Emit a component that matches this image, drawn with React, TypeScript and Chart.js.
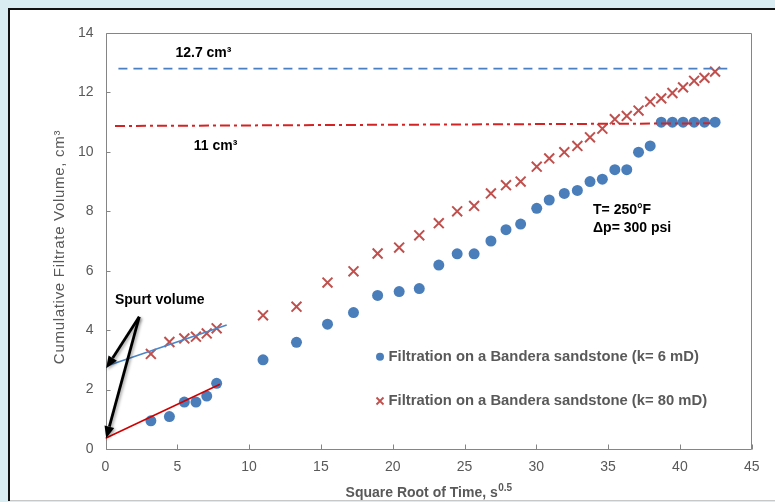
import { useEffect, useRef } from 'react';
import { Chart, registerables } from 'chart.js';

Chart.register(...registerables);

// ---- data ----
const sqrtTime = [3.16, 4.45, 5.49, 6.3, 7.05, 7.74, 10.97, 13.3, 15.46, 17.27, 18.95, 20.45, 21.85, 23.21, 24.49, 25.67, 26.84, 27.89, 28.91, 30.03, 30.9, 31.95, 32.86, 33.74, 34.6, 35.47, 36.3, 37.12, 37.93, 38.7, 39.48, 40.22, 40.99, 41.71, 42.45];
const vol6mD = [0.95, 1.09, 1.58, 1.58, 1.78, 2.21, 3.0, 3.59, 4.2, 4.59, 5.17, 5.3, 5.4, 6.19, 6.57, 6.57, 7.0, 7.38, 7.57, 8.1, 8.38, 8.6, 8.7, 9.0, 9.08, 9.4, 9.4, 9.99, 10.2, 11.0, 11.0, 11.0, 11.0, 11.0, 11.0];
const vol80mD = [3.2, 3.6, 3.72, 3.78, 3.89, 4.06, 4.5, 4.79, 5.6, 5.98, 6.58, 6.78, 7.19, 7.6, 8.0, 8.18, 8.6, 8.88, 9.0, 9.5, 9.78, 9.99, 10.2, 10.49, 10.78, 11.1, 11.21, 11.39, 11.69, 11.8, 11.98, 12.17, 12.39, 12.49, 12.7];

const seriesLabels = ['Filtration on a Bandera sandstone (k= 6 mD)', 'Filtration on a Bandera sandstone (k= 80 mD)'];

const line127X = [0.9, 43.3];
const line127Y = [12.8, 12.8];
const line11X = [0.66, 42.1];
const line11Y = [10.87, 10.96];
const fit80X = [0.08, 8.44];
const fit80Y = [2.79, 4.17];
const fit6X = [0.0, 7.97];
const fit6Y = [0.36, 2.18];

const xTickMin = 0;
const xTickMax = 45;
const xTickStep = 5;
const yTickMin = 0;
const yTickMax = 14;
const yTickStep = 2;

const noteTexts = ['12.7 cm³', '11 cm³', 'T= 250°F', 'Δp= 300 psi', 'Spurt volume'];
const noteX = [6.82, 7.67, 33.95, 33.95, 0.66];
const noteY = [13.33, 10.2, 8.04, 7.44, 5.02];
const noteAlign = ['center', 'center', 'left', 'left', 'left'];

const arrowFromX = [2.35, 2.35];
const arrowFromY = [4.45, 4.45];
const arrowToX = [0.05, 0.05];
const arrowToY = [2.72, 0.36];

const yTitle = 'Cumulative Filtrate Volume, cm³';
const xTitleMain = 'Square Root of Time, s';
const xTitleSup = '0.5';

const FONT = "'Liberation Sans', Arial, sans-serif";
const BLUE = '#4a7ebb';
const RED = '#c0504d';

const pts = (xs: number[], ys: number[]) => xs.map((x, i) => ({ x, y: ys[i] }));

const pagePlugin = {
  id: 'page',
  beforeDraw(chart: any) {
    const { ctx, width, height } = chart;
    ctx.save();
    ctx.fillStyle = '#d9ecf2';
    ctx.fillRect(0, 0, width, height);
    ctx.fillStyle = '#ffffff';
    ctx.fillRect(8, 8, width - 8, height - 9);
    ctx.fillStyle = '#c8c8c8';
    ctx.fillRect(10, height - 2, width - 10, 1);
    ctx.fillStyle = '#111111';
    ctx.fillRect(8, 8, width - 8, 2);
    ctx.fillRect(8, 8, 2, height - 9);
    ctx.restore();
  },
};

const framePlugin = {
  id: 'frameTicks',
  beforeDatasetsDraw(chart: any) {
    const { ctx, chartArea: a, scales } = chart;
    const L = Math.round(a.left) + 0.5;
    const R = Math.round(a.right) - 0.5;
    const T = Math.round(a.top) + 0.5;
    const B = Math.round(a.bottom) + 0.5;
    ctx.save();
    ctx.strokeStyle = '#858585';
    ctx.lineWidth = 1;
    ctx.beginPath();
    ctx.rect(L, T, R - L, B - T);
    scales.x.ticks.forEach((t: any) => {
      const px = Math.round(scales.x.getPixelForValue(t.value)) + 0.5;
      ctx.moveTo(px, B);
      ctx.lineTo(px, B - 5);
    });
    scales.y.ticks.forEach((t: any) => {
      const py = Math.round(scales.y.getPixelForValue(t.value)) + 0.5;
      ctx.moveTo(L, py);
      ctx.lineTo(L + 4, py);
    });
    ctx.stroke();
    ctx.restore();
  },
};

const notesPlugin = {
  id: 'notes',
  afterDatasetsDraw(chart: any) {
    const { ctx, scales, chartArea: a } = chart;
    const sx = scales.x, sy = scales.y;
    ctx.save();
    ctx.fillStyle = '#000';
    ctx.font = `bold 14px ${FONT}`;
    ctx.textBaseline = 'middle';
    noteTexts.forEach((t, i) => {
      ctx.textAlign = noteAlign[i] as CanvasTextAlign;
      ctx.fillText(t, sx.getPixelForValue(noteX[i]), sy.getPixelForValue(noteY[i]));
    });
    ctx.strokeStyle = '#000';
    ctx.fillStyle = '#000';
    ctx.lineWidth = 2.8;
    ctx.shadowColor = 'rgba(0,0,0,0.35)';
    ctx.shadowBlur = 3;
    ctx.shadowOffsetX = 1.5;
    ctx.shadowOffsetY = 1.5;
    arrowFromX.forEach((_, i) => {
      const x0 = sx.getPixelForValue(arrowFromX[i]);
      const y0 = sy.getPixelForValue(arrowFromY[i]);
      const x1 = sx.getPixelForValue(arrowToX[i]);
      const y1 = sy.getPixelForValue(arrowToY[i]);
      const ang = Math.atan2(y1 - y0, x1 - x0);
      const hl = 12, hw = 5;
      const bx = x1 - hl * Math.cos(ang), by = y1 - hl * Math.sin(ang);
      ctx.beginPath();
      ctx.moveTo(x0, y0);
      ctx.lineTo(bx, by);
      ctx.stroke();
      ctx.beginPath();
      ctx.moveTo(x1, y1);
      ctx.lineTo(bx + hw * Math.sin(ang), by - hw * Math.cos(ang));
      ctx.lineTo(bx - hw * Math.sin(ang), by + hw * Math.cos(ang));
      ctx.closePath();
      ctx.fill();
    });
    ctx.restore();

    // legend
    ctx.save();
    const lx = a.left + 274.5;
    const ly = [a.top + 323.7, a.top + 368];
    ctx.font = `bold 14.8px ${FONT}`;
    ctx.textAlign = 'left';
    ctx.textBaseline = 'middle';
    chart.data.datasets.filter((d: any) => d.inLegend).forEach((d: any, i: number) => {
      if (d.pointStyle === 'crossRot') {
        ctx.strokeStyle = d.borderColor;
        ctx.lineWidth = 1.8;
        ctx.beginPath();
        ctx.moveTo(lx - 3.5, ly[i] - 3.5);
        ctx.lineTo(lx + 3.5, ly[i] + 3.5);
        ctx.moveTo(lx + 3.5, ly[i] - 3.5);
        ctx.lineTo(lx - 3.5, ly[i] + 3.5);
        ctx.stroke();
      } else {
        ctx.fillStyle = d.backgroundColor;
        ctx.beginPath();
        ctx.arc(lx, ly[i], 4, 0, Math.PI * 2);
        ctx.fill();
      }
      ctx.fillStyle = '#595959';
      ctx.fillText(d.label, lx + 8.5, ly[i]);
    });
    ctx.restore();

    // axis titles
    ctx.save();
    ctx.fillStyle = '#595959';
    ctx.font = `15px ${FONT}`;
    ctx.textAlign = 'center';
    ctx.textBaseline = 'middle';
    ctx.translate(60, 247);
    ctx.rotate(-Math.PI / 2);
    (ctx as any).letterSpacing = '0.7px';
    ctx.fillText(yTitle, 0, 0);
    ctx.restore();

    ctx.save();
    ctx.fillStyle = '#595959';
    ctx.textBaseline = 'alphabetic';
    ctx.textAlign = 'left';
    ctx.font = `bold 14px ${FONT}`;
    const w1 = ctx.measureText(xTitleMain).width;
    ctx.font = `bold 10px ${FONT}`;
    const w2 = ctx.measureText(xTitleSup).width;
    const cx = (a.left + a.right) / 2;
    const x0 = cx - (w1 + w2) / 2;
    ctx.font = `bold 14px ${FONT}`;
    ctx.fillText(xTitleMain, x0, 497);
    ctx.font = `bold 10px ${FONT}`;
    ctx.fillText(xTitleSup, x0 + w1 + 0.5, 491);
    ctx.restore();
  },
};

export default function App() {
  const ref = useRef<HTMLCanvasElement>(null);
  useEffect(() => {
    if (!ref.current) return;
    const chart = new Chart(ref.current, {
      type: 'scatter',
      data: {
        datasets: [
          { label: 'line127', data: pts(line127X, line127Y), showLine: true, pointRadius: 0, borderColor: '#4a7fc4', borderWidth: 1.8, borderDash: [9, 6] } as any,
          { label: 'line11', data: pts(line11X, line11Y), showLine: true, pointRadius: 0, borderColor: '#d42323', borderWidth: 2, borderDash: [10, 4, 3, 4] } as any,
          { label: 'fit80', data: pts(fit80X, fit80Y), showLine: true, pointRadius: 0, borderColor: '#4a86c8', borderWidth: 1.6 } as any,
          { label: 'fit6', data: pts(fit6X, fit6Y), showLine: true, pointRadius: 0, borderColor: '#d00000', borderWidth: 1.6 } as any,
          { label: seriesLabels[0], inLegend: true, data: pts(sqrtTime, vol6mD), pointStyle: 'circle', pointRadius: 5.5, backgroundColor: BLUE, borderColor: BLUE, borderWidth: 0 } as any,
          { label: seriesLabels[1], inLegend: true, data: pts(sqrtTime, vol80mD), pointStyle: 'crossRot', pointRadius: 7, backgroundColor: RED, borderColor: RED, borderWidth: 2 } as any,
        ],
      },
      options: {
        responsive: false,
        animation: false,
        devicePixelRatio: 1,
        layout: { padding: { left: 0, top: 33, right: 23.3, bottom: 0 } },
        plugins: { legend: { display: false }, tooltip: { enabled: false } },
        scales: {
          x: {
            type: 'linear',
            min: xTickMin,
            max: xTickMax,
            ticks: { stepSize: xTickStep, color: '#595959', font: { family: FONT, size: 14 }, padding: 10 },
            grid: { display: false, drawTicks: false },
            border: { display: false },
            afterFit: (s: any) => { s.height = 53; },
          },
          y: {
            type: 'linear',
            min: yTickMin,
            max: yTickMax,
            ticks: { stepSize: yTickStep, color: '#595959', font: { family: FONT, size: 14 }, padding: 12 },
            grid: { display: false, drawTicks: false },
            border: { display: false },
            afterFit: (s: any) => { s.width = 105.5; },
          },
        },
      },
      plugins: [pagePlugin, framePlugin, notesPlugin],
    });
    return () => chart.destroy();
  }, []);

  return (
    <div style={{ position: 'fixed', left: 0, top: 0, width: 775, height: 502, overflow: 'hidden' }}>
      <canvas ref={ref} width={775} height={502} style={{ position: 'absolute', left: 0, top: 0, display: 'block' }} />
    </div>
  );
}
